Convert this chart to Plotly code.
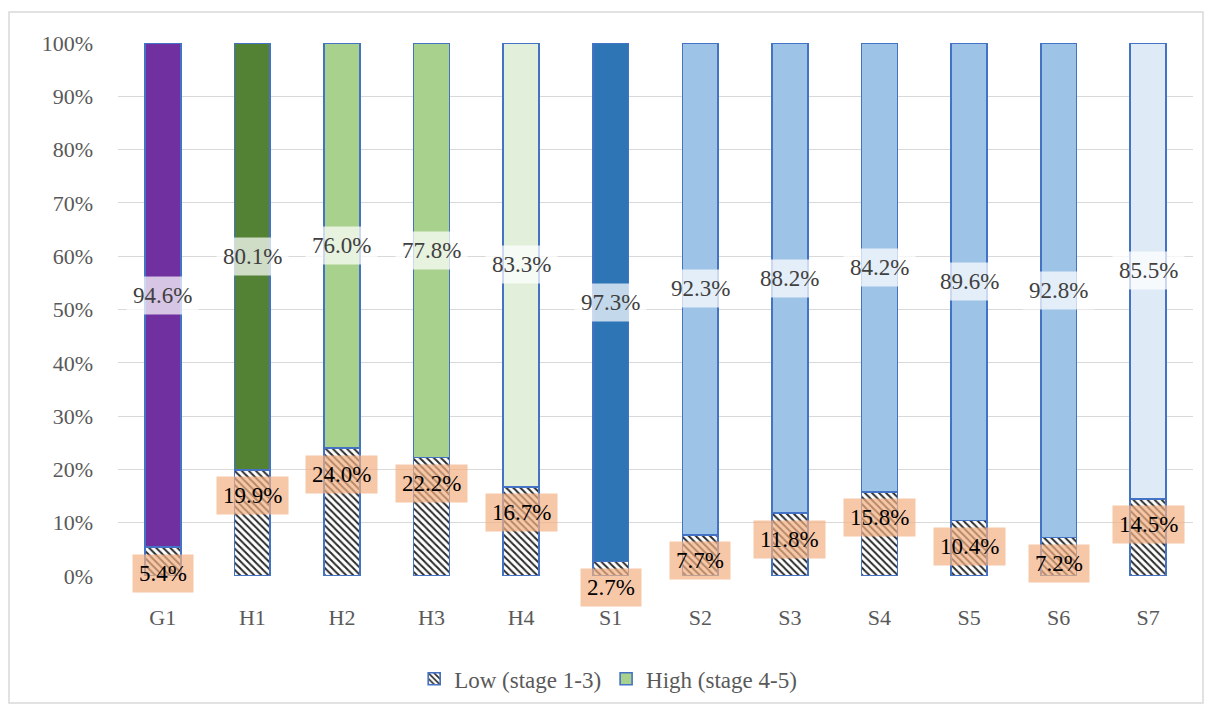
import plotly.graph_objects as go

categories = ["G1", "H1", "H2", "H3", "H4", "S1", "S2", "S3", "S4", "S5", "S6", "S7"]
low_vals = [5.4, 19.9, 24.0, 22.2, 16.7, 2.7, 7.7, 11.8, 15.8, 10.4, 7.2, 14.5]
high_vals = [94.6, 80.1, 76.0, 77.8, 83.3, 97.3, 92.3, 88.2, 84.2, 89.6, 92.8, 85.5]
high_colors = ["#7030A0", "#548235", "#A9D18E", "#A9D18E", "#E2EFDA", "#2E75B6",
               "#9DC3E6", "#9DC3E6", "#9DC3E6", "#9DC3E6", "#9DC3E6", "#DEEBF7"]

FONT = "Liberation Serif"
OUTLINE = "#4472C4"

low_frac = [v / 100 for v in low_vals]
high_frac = [v / 100 for v in high_vals]

fig = go.Figure()
fig.add_trace(go.Bar(
    x=categories, y=low_frac, name="Low (stage 1-3)", width=0.4,
    marker=dict(color="white", line=dict(color=OUTLINE, width=1.6),
                pattern=dict(shape="\\", fgcolor="#2a2a2a", bgcolor="white",
                             size=5, solidity=0.4)),
    hoverinfo="skip",
))
fig.add_trace(go.Bar(
    x=categories, y=high_frac, name="High (stage 4-5)", width=0.4,
    marker=dict(color=high_colors, line=dict(color=OUTLINE, width=1.6)),
    showlegend=False, hoverinfo="skip",
))
# legend entry for the High series (green swatch as in the reference)
fig.add_trace(go.Bar(
    x=[None], y=[None], name="High (stage 4-5)",
    marker=dict(color="#A9D18E", line=dict(color=OUTLINE, width=1.6)),
))

annotations = []
for c, lo, hi in zip(categories, low_frac, high_frac):
    annotations.append(dict(
        x=c, y=lo + hi / 2, xref="x", yref="y", text=f"{hi*100:.1f}%",
        showarrow=False, font=dict(family=FONT, size=23, color="#404040"),
        bgcolor="rgba(255,255,255,0.72)", borderpad=6,
    ))
    annotations.append(dict(
        x=c, y=lo, xref="x", yref="y", text=f"{lo*100:.1f}%", yshift=-26,
        showarrow=False, font=dict(family=FONT, size=23, color="#000000"),
        bgcolor="rgba(244,177,131,0.7)", borderpad=6,
    ))

fig.update_layout(
    template="none",
    barmode="stack",
    width=1209, height=707,
    margin=dict(l=118, r=16, t=43, b=131, autoexpand=False),
    paper_bgcolor="white", plot_bgcolor="white",
    font=dict(family=FONT, color="#595959"),
    annotations=annotations,
    showlegend=True,
    legend=dict(orientation="h", x=0.456, xanchor="center", y=-0.193, yanchor="middle",
                traceorder="normal", font=dict(family=FONT, size=23, color="#595959"),
                itemwidth=30, bgcolor="rgba(0,0,0,0)"),
    shapes=[dict(type="rect", xref="paper", yref="paper",
                 x0=(9 - 118) / 1075, x1=(1203 - 118) / 1075,
                 y0=(576 - 703) / 533, y1=(576 - 12) / 533,
                 line=dict(color="#D9D9D9", width=1.5), layer="below")],
    bargap=0.6,
)
fig.update_xaxes(showgrid=False, showline=False, ticks="", automargin=False,
                 tickfont=dict(family=FONT, size=22, color="#595959"),
                 ticklabelstandoff=26)
fig.update_yaxes(range=[0, 1], tickformat=".0%", dtick=0.1, automargin=False,
                 showgrid=True, gridcolor="#D9D9D9", gridwidth=1.3,
                 zeroline=False, showline=False, ticks="",
                 tickfont=dict(family=FONT, size=22, color="#595959"),
                 ticklabelstandoff=24)

fig.write_html("out.html")
